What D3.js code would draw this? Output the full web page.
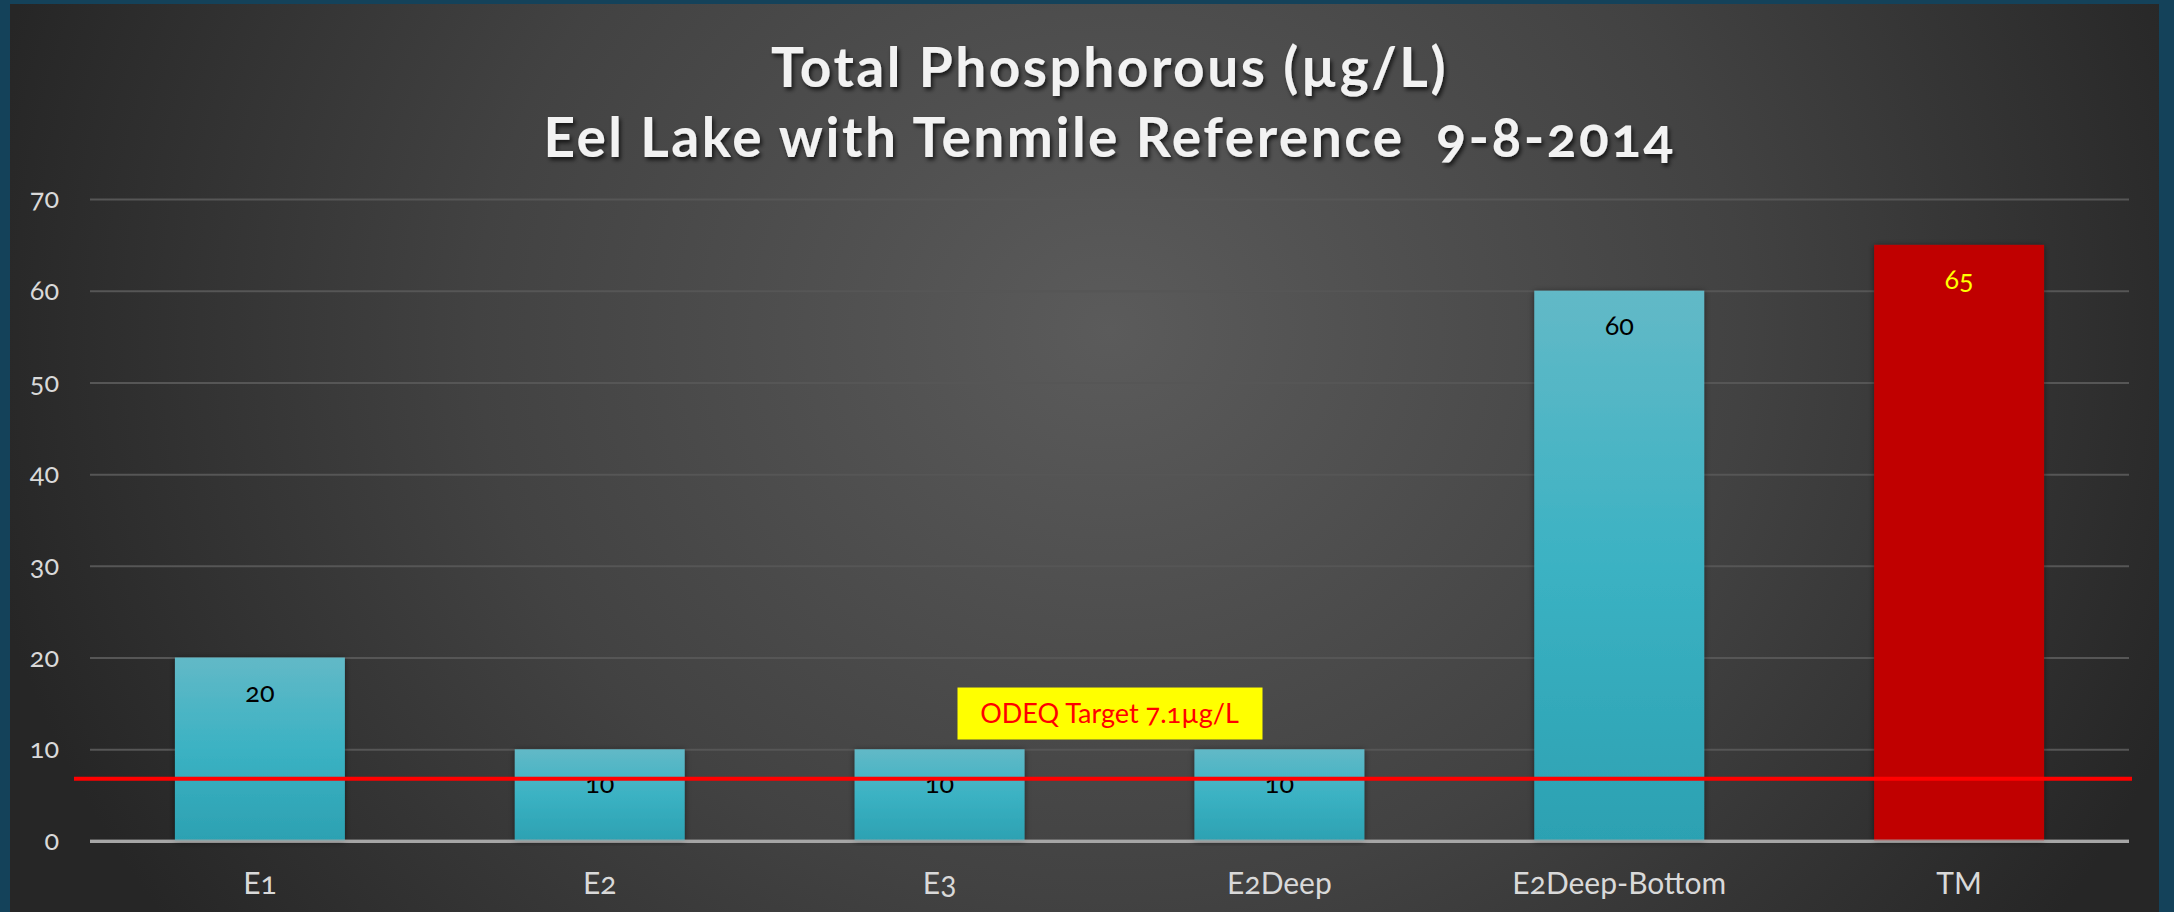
<!DOCTYPE html>
<html>
<head>
<meta charset="utf-8">
<script src="https://cdn.jsdelivr.net/npm/d3@7"></script>
<style>
  html, body { margin: 0; padding: 0; background: #14425a; }
  svg { display: block; font-family: Lato, 'Open Sans', sans-serif; }
  .num { font-variant-numeric: oldstyle-nums; font-feature-settings: "onum" 1; }
</style>
</head>
<body>
<script>
// chart values
const categories = ['E1', 'E2', 'E3', 'E2Deep', 'E2Deep-Bottom', 'TM']
const values = [20, 10, 10, 10, 60, 65]
const yTicks = [0, 10, 20, 30, 40, 50, 60, 70]
const targetValue = 6.8
const targetLabel = 'ODEQ Target 7.1µg/L'
const titleLines = ['Total Phosphorous (µg/L)', 'Eel Lake with Tenmile Reference  9-8-2014']

const width = 2174,
  height = 912,
  margin = { top: 199, bottom: 71, right: 45, left: 90 }
const plotW = width - margin.left - margin.right
const plotH = height - margin.top - margin.bottom

const svg = d3.select('body').append('svg')
  .attr('width', width)
  .attr('height', height)

const defs = svg.append('defs')

// background gradient
const bg = defs.append('radialGradient')
  .attr('id', 'bg')
  .attr('gradientUnits', 'userSpaceOnUse')
  .attr('cx', 1110).attr('cy', 330).attr('r', 1150)
  .attr('gradientTransform', 'translate(1110,330) scale(1,0.9) translate(-1110,-330)')
bg.append('stop').attr('offset', 0).attr('stop-color', '#5b5b5b')
bg.append('stop').attr('offset', 0.55).attr('stop-color', '#424242')
bg.append('stop').attr('offset', 1).attr('stop-color', '#262626')

const barGrad = defs.append('linearGradient')
  .attr('id', 'barGrad')
  .attr('x1', 0).attr('y1', 0).attr('x2', 0).attr('y2', 1)
barGrad.append('stop').attr('offset', 0).attr('stop-color', '#62b9c7')
barGrad.append('stop').attr('offset', 0.5).attr('stop-color', '#3bb2c3')
barGrad.append('stop').attr('offset', 1).attr('stop-color', '#2ca1b2')

const shadow = defs.append('filter').attr('id', 'shadow')
  .attr('x', '-10%').attr('y', '-10%').attr('width', '120%').attr('height', '130%')
shadow.append('feDropShadow')
  .attr('dx', 2).attr('dy', 3).attr('stdDeviation', 2)
  .attr('flood-color', '#000').attr('flood-opacity', 0.7)

const barShadow = defs.append('filter').attr('id', 'barShadow')
  .attr('x', '-10%').attr('y', '-5%').attr('width', '120%').attr('height', '110%')
barShadow.append('feDropShadow')
  .attr('dx', 0).attr('dy', 1).attr('stdDeviation', 3)
  .attr('flood-color', '#000').attr('flood-opacity', 0.5)

// frame + background
svg.append('rect')
  .attr('width', width).attr('height', height)
  .attr('fill', '#14425a')
svg.append('rect')
  .attr('x', 10).attr('y', 4)
  .attr('width', 2149).attr('height', height - 4)
  .attr('fill', 'url(#bg)')

// title
const title = svg.append('text')
  .attr('x', margin.left + plotW / 2)
  .attr('text-anchor', 'middle')
  .attr('fill', '#f2f2f2')
  .attr('font-weight', 'bold')
  .attr('font-size', 55)
  .attr('letter-spacing', 2.5)
  .attr('filter', 'url(#shadow)')
  .style('white-space', 'pre')
  .classed('num', true)
title.selectAll('tspan').data(titleLines).enter().append('tspan')
  .attr('x', margin.left + plotW / 2)
  .attr('y', (d, i) => 87 + i * 70)
  .text((d) => d)

// scales
const xScale = d3.scaleBand()
  .domain(categories)
  .range([0, plotW])
  .paddingInner(0.5)
  .paddingOuter(0.25)

const yScale = d3.scaleLinear()
  .domain([0, 70])
  .range([plotH, 0])

const g = svg.append('g')
  .attr('transform', `translate(${margin.left},${margin.top})`)

// y axis with gridlines
const yAxis = g.append('g')
  .call(d3.axisLeft(yScale).tickValues(yTicks).tickSizeInner(-plotW).tickSizeOuter(0).tickPadding(31))
yAxis.select('.domain').remove()
yAxis.selectAll('line')
  .attr('stroke', '#565656')
  .attr('stroke-width', 2)
yAxis.selectAll('text')
  .attr('fill', '#d9d9d9')
  .attr('font-size', 27)
  .attr('font-family', 'Lato, sans-serif')
  .classed('num', true)
yAxis.selectAll('.tick').filter((d) => d === 0).select('line')
  .attr('stroke', '#a6a6a6')
  .attr('stroke-width', 3)

// bars
const bars = g.selectAll('.bar').data(categories).enter().append('g')

bars.append('rect')
  .attr('x', (d) => xScale(d))
  .attr('y', (d, i) => yScale(values[i]))
  .attr('width', xScale.bandwidth())
  .attr('height', (d, i) => plotH - yScale(values[i]))
  .attr('fill', (d) => (d === 'TM' ? '#c00000' : 'url(#barGrad)'))
  .attr('filter', 'url(#barShadow)')

bars.append('text')
  .attr('x', (d) => xScale(d) + xScale.bandwidth() / 2)
  .attr('y', (d, i) => yScale(values[i]) + 44)
  .attr('text-anchor', 'middle')
  .attr('font-size', 27)
  .attr('fill', (d) => (d === 'TM' ? '#ffff00' : '#000'))
  .classed('num', true)
  .text((d, i) => values[i])

// redraw axis baseline on top of bars
g.append('line')
  .attr('x1', 0).attr('x2', plotW)
  .attr('y1', yScale(0)).attr('y2', yScale(0))
  .attr('stroke', '#a6a6a6')
  .attr('stroke-width', 3)
  .attr('opacity', 0.8)

// x axis labels
const xAxis = g.append('g')
  .attr('transform', `translate(0,${plotH})`)
  .call(d3.axisBottom(xScale).tickSize(0).tickPadding(32))
xAxis.select('.domain').remove()
xAxis.selectAll('text')
  .attr('fill', '#d9d9d9')
  .attr('font-size', 30)
  .attr('font-family', 'Lato, sans-serif')
  .classed('num', true)

// target line
g.append('line')
  .attr('x1', -16).attr('x2', plotW + 3)
  .attr('y1', yScale(targetValue)).attr('y2', yScale(targetValue))
  .attr('stroke', '#ff0000')
  .attr('stroke-width', 4)

// target label box between E3 and E2Deep
const boxCx = (xScale('E3') + xScale('E2Deep')) / 2 + xScale.bandwidth() / 2
const boxCy = yScale(13.9)
const box = g.append('g').attr('transform', `translate(${boxCx},${boxCy})`)
box.append('rect')
  .attr('x', -152).attr('y', -26)
  .attr('width', 305).attr('height', 52)
  .attr('fill', '#ffff00')
box.append('text')
  .attr('text-anchor', 'middle')
  .attr('dy', '0.35em')
  .attr('font-size', 27)
  .attr('fill', '#ff0000')
  .classed('num', true)
  .text(targetLabel)
</script>
</body>
</html>
